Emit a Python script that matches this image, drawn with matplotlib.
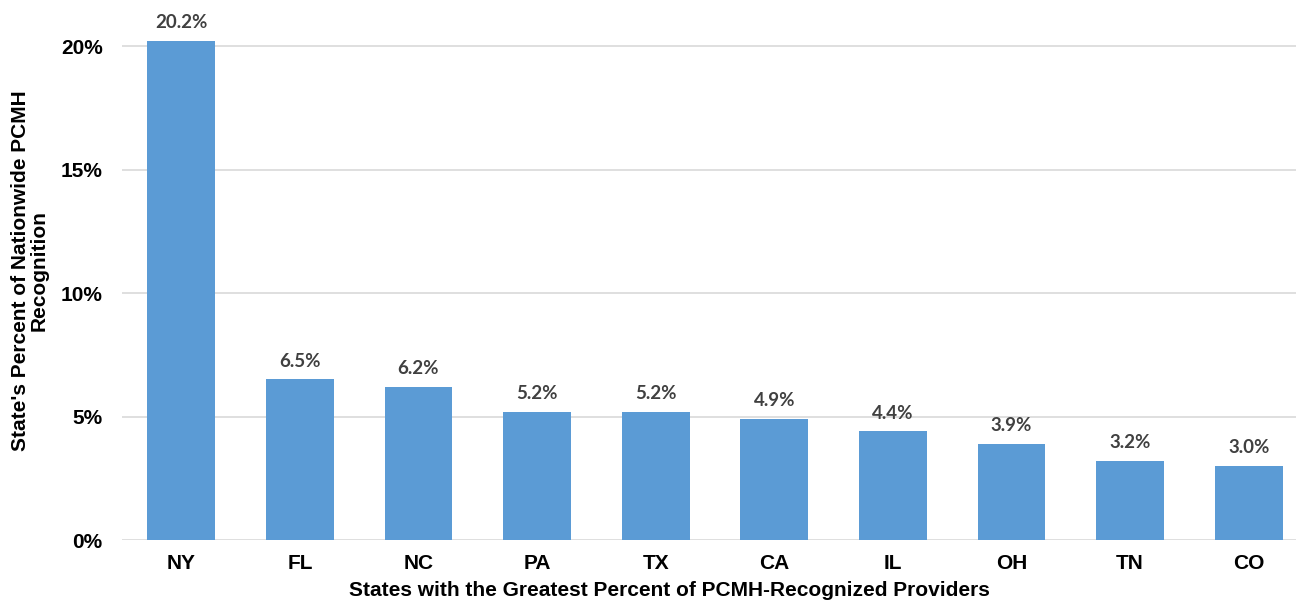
import matplotlib
matplotlib.use("Agg")
import matplotlib.pyplot as plt
from matplotlib.ticker import FuncFormatter

states = ["NY", "FL", "NC", "PA", "TX", "CA", "IL", "OH", "TN", "CO"]
percent = [20.2, 6.5, 6.2, 5.2, 5.2, 4.9, 4.4, 3.9, 3.2, 3.0]
yticks = [0, 5, 10, 15, 20]

W, H = 1304, 606
fig = plt.figure(figsize=(W / 100, H / 100), dpi=100)
left, right, bottom = 122, 1296, 540
ytop = 21.0
ppu = (540 - 46) / 20.0
top_px = bottom - ytop * ppu
ax_h = bottom - top_px
ax = fig.add_axes([left / W, (H - bottom) / H, (right - left) / W, ax_h / H])

spacing = 118.6
nunits = (right - left) / spacing
x = list(range(len(states)))
ax.bar(x, percent, width=0.57, color="#5B9BD5", zorder=3)
ax.set_xlim(-0.5, -0.5 + nunits)
ax.set_ylim(0, ytop)
ax.set_yticks(yticks)
ax.yaxis.set_major_formatter(FuncFormatter(lambda v, p: f"{v:.0f}%"))
ax.grid(axis="y", color="#d9d9d9", linewidth=1.2, zorder=0)
for s in ax.spines.values():
    s.set_visible(False)
ax.tick_params(length=0)
ax.set_xticks(x)
ax.set_xticklabels(states)
for lab in ax.get_xticklabels() + ax.get_yticklabels():
    lab.set_fontfamily("Liberation Sans")
    lab.set_fontweight("bold")
    lab.set_fontsize(15)
ax.tick_params(axis="x", pad=10)
ax.tick_params(axis="y", pad=14)

for xi, v in zip(x, percent):
    ax.annotate(f"{v:.1f}%", (xi, v), xytext=(0, 7), textcoords="offset points",
                ha="center", va="bottom", fontsize=13.5, fontweight="bold",
                color="#404040", family="Lato", clip_on=False)

ax.set_xlabel("States with the Greatest Percent of PCMH-Recognized Providers",
              fontsize=15, fontweight="bold", family="Liberation Sans")
ax.xaxis.set_label_coords((669 - left) / (right - left), -(591 - bottom) / ax_h)
ax.xaxis.label.set_va("center")
ax.set_ylabel("State's Percent of Nationwide PCMH\nRecognition",
              fontsize=15, fontweight="bold", family="Liberation Sans",
              linespacing=0.95)
ax.yaxis.set_label_coords(-(left - 30) / (right - left), (bottom - 271) / ax_h)
ax.yaxis.label.set_va("center")

fig.savefig("out.png", dpi=100)
